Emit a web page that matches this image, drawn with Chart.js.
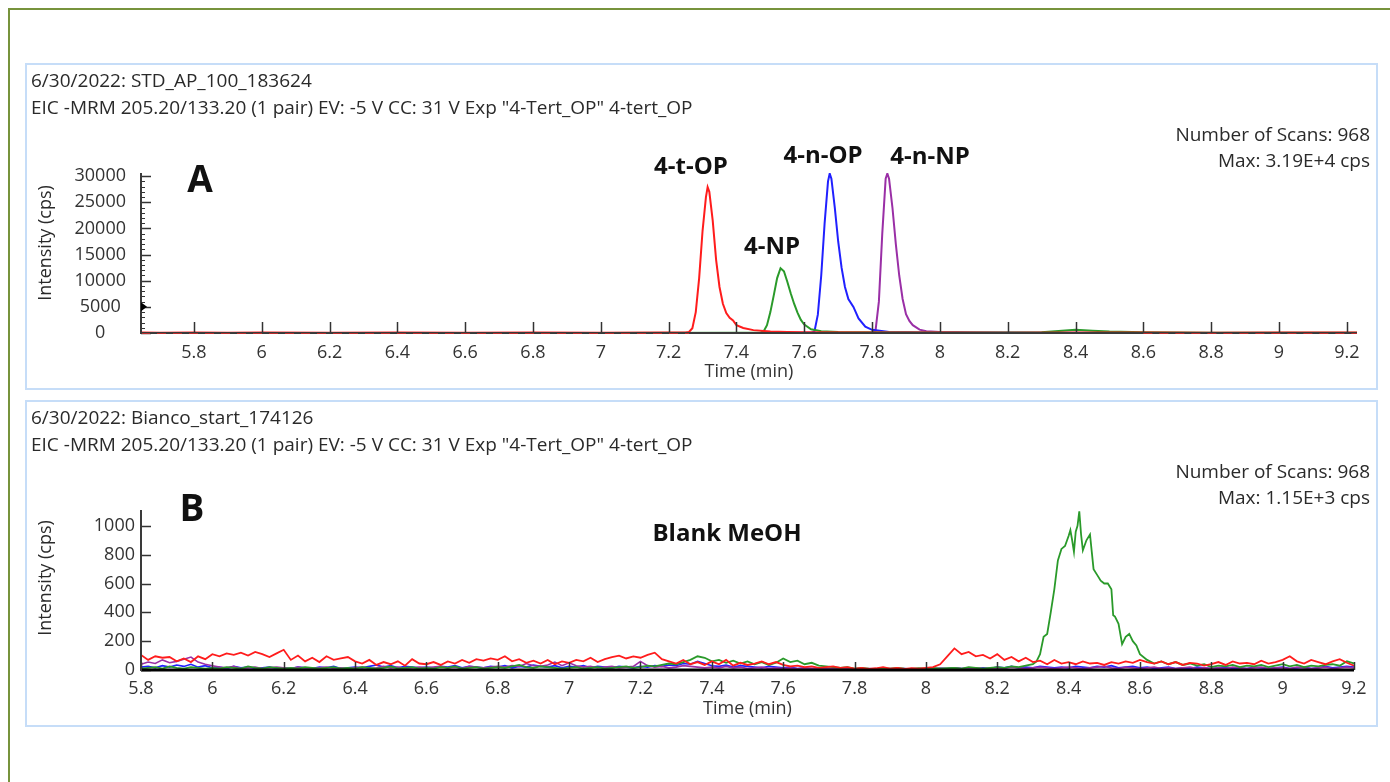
<!DOCTYPE html>
<html>
<head>
<meta charset="utf-8">
<script src="https://cdn.jsdelivr.net/npm/chart.js@4.4.0/dist/chart.umd.min.js"></script>
<style>
    body { margin: 0; background: #fff; }
    #page { position: relative; width: 1390px; height: 782px; overflow: hidden; font-family: "Open Sans", sans-serif; color: #2a2a2a; }
    .edge-top { position: absolute; left: 8px; top: 8px; width: 1382px; height: 2px; background: #77933c; }
    .edge-left { position: absolute; left: 8px; top: 8px; width: 2px; height: 774px; background: #77933c; }
    .panel { position: absolute; left: 25px; width: 1349px; height: 323px; border: 2px solid #c6ddf8; }
    .panel canvas { position: absolute; left: 0; top: 0; }
    .hdr { position: absolute; left: 4px; font-size: 19px; line-height: 26px; white-space: nowrap; }
    .info { position: absolute; right: 6px; font-size: 19px; line-height: 26px; white-space: nowrap; text-align: right; }
    .lbl { position: absolute; font-weight: bold; color: #111; line-height: 1; white-space: nowrap; transform: translate(-50%, -50%); }
    .ytitle { position: absolute; font-size: 18px; line-height: 1; white-space: nowrap; transform: translate(-50%, -50%) rotate(-90deg); }
</style>
</head>
<body>
<div id="page">
    <div class="edge-top"></div>
    <div class="edge-left"></div>

    <div class="panel" style="top:63px">
        <canvas id="chart-a" width="1349" height="323"></canvas>
        <div class="hdr" style="top:2px">6/30/2022: STD_AP_100_183624</div>
        <div class="hdr" style="top:29px">EIC -MRM 205.20/133.20 (1 pair) EV: -5 V CC: 31 V Exp "4-Tert_OP" 4-tert_OP</div>
        <div class="info" style="top:56px">Number of Scans: 968</div>
        <div class="info" style="top:82px">Max: 3.19E+4 cps</div>
    </div>

    <div class="panel" style="top:400px">
        <canvas id="chart-b" width="1349" height="323"></canvas>
        <div class="hdr" style="top:2px">6/30/2022: Bianco_start_174126</div>
        <div class="hdr" style="top:29px">EIC -MRM 205.20/133.20 (1 pair) EV: -5 V CC: 31 V Exp "4-Tert_OP" 4-tert_OP</div>
        <div class="info" style="top:56px">Number of Scans: 968</div>
        <div class="info" style="top:82px">Max: 1.15E+3 cps</div>
    </div>

    <div class="ytitle" style="left:44px;top:243px">Intensity (cps)</div>
    <div class="ytitle" style="left:44px;top:578px">Intensity (cps)</div>

    <div class="lbl" style="left:200px;top:177px;font-size:37px">A</div>
    <div class="lbl" style="left:691px;top:165px;font-size:24px">4-t-OP</div>
    <div class="lbl" style="left:772px;top:245px;font-size:24px">4-NP</div>
    <div class="lbl" style="left:823px;top:154px;font-size:24px">4-n-OP</div>
    <div class="lbl" style="left:930px;top:155px;font-size:24px">4-n-NP</div>
    <div class="lbl" style="left:192px;top:506px;font-size:37px">B</div>
    <div class="lbl" style="left:727px;top:532px;font-size:24px">Blank MeOH</div>
</div>

<script>
// ---- panel A : standard 100, four peaks ----
const xTicksA = [5.8, 6, 6.2, 6.4, 6.6, 6.8, 7, 7.2, 7.4, 7.6, 7.8, 8, 8.2, 8.4, 8.6, 8.8, 9, 9.2];
const yTicksA = [0, 5000, 10000, 15000, 20000, 25000, 30000];

const redA_t = [5.64, 5.7, 5.8, 5.9, 6.0, 6.2, 6.4, 6.6, 6.8, 7.0, 7.2, 7.25, 7.26, 7.27, 7.28, 7.29, 7.30, 7.31, 7.315, 7.32, 7.33, 7.34, 7.35, 7.36, 7.37, 7.38, 7.39, 7.40, 7.42, 7.45, 7.50, 7.55, 7.6, 7.8, 8.0, 8.2, 8.4, 8.6, 8.8, 9.0, 9.23];
const redA_y = [80, 60, 90, 70, 80, 60, 90, 70, 80, 60, 90, 100, 200, 900, 4000, 10500, 19500, 26000, 27900, 27000, 21500, 14000, 8800, 5600, 3800, 2900, 2400, 1500, 950, 550, 300, 180, 120, 90, 80, 70, 90, 80, 70, 90, 80];

const greenA_t = [5.64, 6.0, 6.5, 7.0, 7.4, 7.47, 7.48, 7.49, 7.50, 7.51, 7.52, 7.53, 7.54, 7.55, 7.56, 7.57, 7.58, 7.59, 7.60, 7.62, 7.65, 7.7, 7.8, 8.0, 8.3, 8.35, 8.4, 8.45, 8.5, 8.6, 8.8, 9.0, 9.23];
const greenA_y = [20, 20, 20, 20, 30, 60, 300, 1500, 4000, 7200, 10500, 12400, 11800, 9800, 7600, 5600, 3900, 2500, 1600, 700, 350, 200, 120, 80, 150, 400, 600, 450, 300, 150, 60, 40, 30];

const blueA_t = [5.64, 6.5, 7.5, 7.62, 7.63, 7.64, 7.65, 7.66, 7.67, 7.675, 7.68, 7.69, 7.70, 7.71, 7.72, 7.73, 7.745, 7.76, 7.78, 7.8, 7.85, 8.0, 8.5, 9.23];
const blueA_y = [10, 10, 10, 30, 300, 3500, 11000, 21000, 29000, 30500, 29500, 24000, 17500, 12500, 8800, 6500, 5000, 2800, 1200, 600, 200, 60, 20, 10];

const purpleA_t = [5.64, 6.5, 7.5, 7.8, 7.81, 7.82, 7.83, 7.84, 7.845, 7.85, 7.86, 7.87, 7.88, 7.89, 7.90, 7.91, 7.92, 7.94, 7.96, 8.0, 8.1, 8.5, 9.23];
const purpleA_y = [10, 10, 10, 30, 400, 6000, 19000, 29500, 30500, 29500, 24000, 17000, 11000, 6500, 3600, 2300, 1500, 650, 350, 200, 80, 20, 10];

// ---- panel B : blank MeOH ----
const xTicksB = [5.8, 6, 6.2, 6.4, 6.6, 6.8, 7, 7.2, 7.4, 7.6, 7.8, 8, 8.2, 8.4, 8.6, 8.8, 9, 9.2];
const yTicksB = [0, 200, 400, 600, 800, 1000];

const timeB = [
    5.80, 5.82, 5.84, 5.86, 5.88, 5.90, 5.92, 5.94, 5.96, 5.98,
    6.00, 6.02, 6.04, 6.06, 6.08, 6.10, 6.12, 6.14, 6.16, 6.18,
    6.20, 6.22, 6.24, 6.26, 6.28, 6.30, 6.32, 6.34, 6.36, 6.38,
    6.40, 6.42, 6.44, 6.46, 6.48, 6.50, 6.52, 6.54, 6.56, 6.58,
    6.60, 6.62, 6.64, 6.66, 6.68, 6.70, 6.72, 6.74, 6.76, 6.78,
    6.80, 6.82, 6.84, 6.86, 6.88, 6.90, 6.92, 6.94, 6.96, 6.98,
    7.00, 7.02, 7.04, 7.06, 7.08, 7.10, 7.12, 7.14, 7.16, 7.18,
    7.20, 7.22, 7.24, 7.26, 7.28, 7.30, 7.32, 7.34, 7.36, 7.38,
    7.40, 7.42, 7.44, 7.46, 7.48, 7.50, 7.52, 7.54, 7.56, 7.58,
    7.60, 7.62, 7.64, 7.66, 7.68, 7.70, 7.72, 7.74, 7.76, 7.78,
    7.80, 7.82, 7.84, 7.86, 7.88, 7.90, 7.92, 7.94, 7.96, 7.98,
    8.00, 8.02, 8.04, 8.06, 8.08, 8.10, 8.12, 8.14, 8.16, 8.18,
    8.20, 8.22, 8.24, 8.26, 8.28, 8.30, 8.32, 8.34, 8.36, 8.38,
    8.40, 8.42, 8.44, 8.46, 8.48, 8.50, 8.52, 8.54, 8.56, 8.58,
    8.60, 8.62, 8.64, 8.66, 8.68, 8.70, 8.72, 8.74, 8.76, 8.78,
    8.80, 8.82, 8.84, 8.86, 8.88, 8.90, 8.92, 8.94, 8.96, 8.98,
    9.00, 9.02, 9.04, 9.06, 9.08, 9.10, 9.12, 9.14, 9.16, 9.18,
    9.20
];

const redB = [
    105, 70, 95, 85, 90, 60, 80, 55, 95, 75,
    110, 95, 115, 105, 120, 100, 125, 110, 90, 115,
    140, 70, 100, 60, 85, 55, 95, 70, 80, 90,
    60, 45, 70, 35, 55, 40, 60, 30, 75, 45,
    40, 55, 35, 60, 45, 70, 50, 75, 65, 80,
    70, 95, 60, 75, 50, 65, 45, 70, 40, 60,
    50, 70, 60, 85, 55, 75, 90, 100, 80, 95,
    85, 105, 120, 75, 60, 45, 70, 40, 55, 35,
    60, 40, 70, 30, 50, 35, 45, 60, 40, 55,
    35, 25, 30, 20, 25, 15, 20, 25, 15, 20,
    10, 15, 8, 12, 20, 10, 15, 8, 12, 10,
    15, 20, 40, 95, 150, 110, 125, 95, 105, 80,
    110, 70, 90, 60, 85, 55, 65, 40, 70, 45,
    55, 40, 60, 45, 50, 35, 55, 45, 60, 50,
    70, 55, 45, 60, 40, 55, 35, 50, 45, 30,
    40, 55, 35, 60, 45, 50, 40, 65, 45, 55,
    70, 95, 60, 45, 70, 55, 40, 60, 75, 50,
    30
];

const blueB = [
    20, 25, 15, 30, 20, 35, 25, 40, 20, 30,
    15, 20, 10, 25, 15, 20, 10, 15, 20, 10,
    15, 10, 20, 15, 10, 20, 15, 25, 10, 15,
    20, 15, 25, 35, 20, 30, 15, 25, 20, 15,
    20, 15, 25, 20, 30, 15, 25, 20, 15, 25,
    20, 30, 15, 25, 20, 35, 25, 20, 30, 15,
    25, 20, 30, 15, 25, 20, 15, 25, 20, 15,
    25, 20, 30, 25, 35, 30, 45, 40, 60, 45,
    30, 25, 35, 20, 30, 25, 20, 15, 25, 20,
    15, 20, 10, 15, 10, 15, 10, 8, 12, 10,
    8, 10, 5, 8, 10, 5, 8, 10, 5, 8,
    10, 8, 12, 10, 15, 10, 12, 8, 15, 10,
    20, 15, 25, 15, 20, 15, 25, 20, 15, 20,
    15, 25, 20, 15, 25, 20, 30, 15, 20, 25,
    15, 20, 10, 15, 20, 10, 15, 10, 20, 15,
    10, 15, 20, 10, 15, 10, 20, 15, 10, 15,
    20, 10, 15, 20, 10, 15, 25, 15, 20, 25,
    20
];

const purpleB = [
    40, 55, 45, 70, 50, 60, 75, 90, 55, 40,
    30, 20, 15, 25, 10, 15, 20, 10, 15, 20,
    15, 10, 20, 15, 10, 15, 20, 10, 15, 10,
    15, 20, 10, 15, 25, 15, 20, 10, 15, 20,
    15, 20, 25, 15, 20, 10, 25, 20, 15, 20,
    25, 20, 30, 25, 45, 30, 25, 35, 55, 30,
    50, 30, 20, 25, 15, 20, 25, 15, 20, 25,
    60, 30, 20, 25, 15, 20, 30, 25, 20, 15,
    20, 15, 25, 15, 20, 10, 15, 20, 10, 15,
    10, 15, 8, 12, 10, 8, 12, 10, 8, 10,
    8, 5, 10, 8, 5, 10, 8, 5, 10, 8,
    10, 8, 12, 10, 15, 10, 12, 15, 10, 12,
    15, 10, 20, 15, 10, 15, 20, 15, 10, 15,
    20, 15, 10, 15, 20, 25, 15, 10, 20, 15,
    10, 15, 20, 10, 15, 10, 15, 20, 10, 15,
    10, 15, 10, 20, 15, 10, 15, 20, 10, 15,
    15, 10, 20, 15, 10, 15, 20, 10, 15, 20,
    15
];

const greenB_t = [
    5.80, 5.82, 5.84, 5.86, 5.88, 5.90, 5.92, 5.94, 5.96, 5.98,
    6.00, 6.02, 6.04, 6.06, 6.08, 6.10, 6.12, 6.14, 6.16, 6.18,
    6.20, 6.22, 6.24, 6.26, 6.28, 6.30, 6.32, 6.34, 6.36, 6.38,
    6.40, 6.42, 6.44, 6.46, 6.48, 6.50, 6.52, 6.54, 6.56, 6.58,
    6.60, 6.62, 6.64, 6.66, 6.68, 6.70, 6.72, 6.74, 6.76, 6.78,
    6.80, 6.82, 6.84, 6.86, 6.88, 6.90, 6.92, 6.94, 6.96, 6.98,
    7.00, 7.02, 7.04, 7.06, 7.08, 7.10, 7.12, 7.14, 7.16, 7.18,
    7.20, 7.22, 7.24, 7.26, 7.28, 7.30, 7.32, 7.34, 7.36, 7.38,
    7.40, 7.42, 7.44, 7.46, 7.48, 7.50, 7.52, 7.54, 7.56, 7.58,
    7.60, 7.62, 7.64, 7.66, 7.68, 7.70, 7.72, 7.74, 7.76, 7.78,
    7.80, 7.82, 7.84, 7.86, 7.88, 7.90, 7.92, 7.94, 7.96, 7.98,
    8.00, 8.02, 8.04, 8.06, 8.08, 8.10, 8.12, 8.14, 8.16, 8.18,
    8.20, 8.22, 8.24, 8.26, 8.28, 8.30,
    8.31, 8.32, 8.33, 8.34, 8.35, 8.36, 8.37, 8.38, 8.39, 8.40,
    8.405, 8.41, 8.415, 8.42, 8.425, 8.43, 8.435, 8.44, 8.45, 8.46,
    8.465, 8.47, 8.48, 8.49, 8.50, 8.51, 8.52, 8.525, 8.53, 8.54,
    8.55, 8.56, 8.57, 8.58, 8.59, 8.60,
    8.62, 8.64, 8.66, 8.68, 8.70, 8.72, 8.74, 8.76, 8.78,
    8.80, 8.82, 8.84, 8.86, 8.88, 8.90, 8.92, 8.94, 8.96, 8.98,
    9.00, 9.02, 9.04, 9.06, 9.08, 9.10, 9.12, 9.14, 9.16, 9.18,
    9.20
];
const greenB_y = [
    10, 15, 20, 10, 25, 15, 10, 20, 15, 10,
    15, 10, 20, 15, 10, 25, 15, 10, 20, 15,
    10, 15, 10, 20, 15, 10, 15, 20, 10, 15,
    10, 20, 15, 10, 15, 25, 10, 15, 20, 10,
    15, 10, 20, 15, 25, 10, 15, 20, 10, 15,
    20, 15, 25, 35, 20, 15, 25, 20, 15, 10,
    15, 20, 10, 15, 20, 10, 15, 20, 25, 15,
    20, 30, 25, 35, 45, 40, 55, 70, 95, 85,
    60, 70, 50, 65, 45, 60, 40, 55, 35, 50,
    80, 55, 65, 40, 50, 30, 25, 20, 15, 20,
    10, 15, 10, 8, 12, 10, 15, 10, 8, 12,
    10, 15, 10, 12, 15, 10, 20, 15, 10, 15,
    20, 15, 25, 20, 30, 40,
    60, 110, 230, 250, 400, 560, 760, 840, 860, 930,
    970, 900, 820, 960, 1000, 1100, 940, 830, 900, 940,
    820, 700, 660, 620, 600, 600, 560, 380, 370, 320,
    180, 230, 250, 200, 170, 110,
    70, 45, 60, 40, 55, 35, 45, 30, 40,
    20, 30, 25, 35, 20, 30, 25, 35, 20, 30,
    40, 25, 35, 20, 30, 25, 35, 40, 30, 60,
    45
];

const RED = '#ff1c1c';
const GREEN = '#2a9a2a';
const BLUE = '#2020ff';
const PURPLE = '#9a2fa6';
const FONT = '"Open Sans", sans-serif';

function pairs(t, y) {
    return t.map(function(v, i) { return {x: v, y: y[i]}; });
}

function line(ctx, x1, y1, x2, y2) {
    ctx.beginPath();
    ctx.moveTo(x1, y1);
    ctx.lineTo(x2, y2);
    ctx.stroke();
}

// tick marks point into the plot, axis lines go on top of the traces
const axisMarks = {
    id: 'axisMarks',
    afterDatasetsDraw(chart, args, opts) {
        const ctx = chart.ctx;
        const a = chart.chartArea;
        const xs = chart.scales.x;
        const ys = chart.scales.y;
        ctx.save();
        ctx.strokeStyle = '#333';
        if (opts.minorStep) {
            ctx.lineWidth = 1;
            for (let v = 0; v <= ys.max; v += opts.minorStep) {
                let py = Math.round(ys.getPixelForValue(v)) + 0.5;
                line(ctx, a.left, py, a.left + 4, py);
            }
        }
        ctx.lineWidth = 1.5;
        ys.ticks.forEach(function(t) {
            let py = Math.round(ys.getPixelForValue(t.value)) + 0.5;
            line(ctx, a.left, py, a.left + opts.yTick, py);
        });
        xs.ticks.forEach(function(t) {
            let px = Math.round(xs.getPixelForValue(t.value)) + 0.5;
            line(ctx, px, a.bottom, px, a.bottom - opts.xTick);
        });
        ctx.strokeStyle = opts.xAxisColor;
        ctx.lineWidth = opts.xAxisWidth;
        line(ctx, a.left, a.bottom, a.right, a.bottom);
        if (opts.baseDash) {
            // the red trace sits on the axis and shows through as dashes
            ctx.strokeStyle = opts.baseDash;
            ctx.lineWidth = 1;
            ctx.setLineDash([9, 7]);
            line(ctx, a.left, a.bottom + 0.5, xs.getPixelForValue(7.26), a.bottom + 0.5);
            line(ctx, xs.getPixelForValue(8.6), a.bottom + 0.5, a.right, a.bottom + 0.5);
            ctx.setLineDash([]);
        }
        ctx.strokeStyle = '#3a3a3a';
        ctx.lineWidth = 2;
        line(ctx, a.left, a.top, a.left, a.bottom + 1);
        if (opts.marker != null) {
            let my = ys.getPixelForValue(opts.marker);
            ctx.fillStyle = '#000';
            ctx.beginPath();
            ctx.moveTo(a.left, my - 4.5);
            ctx.lineTo(a.left + 6, my);
            ctx.lineTo(a.left, my + 4.5);
            ctx.closePath();
            ctx.fill();
        }
        ctx.restore();
    }
};

function makeChart(id, datasets, cfg) {
    const canvas = document.getElementById(id);
    return new Chart(canvas.getContext('2d'), {
        type: 'scatter',
        data: { datasets: datasets },
        plugins: [axisMarks],
        options: {
            responsive: false,
            animation: false,
            devicePixelRatio: 1,
            layout: { padding: { left: 0, right: cfg.padRight, top: 108, bottom: 5 } },
            elements: { point: { radius: 0 } },
            plugins: {
                legend: { display: false },
                tooltip: { enabled: false },
                axisMarks: cfg.marks
            },
            scales: {
                x: {
                    type: 'linear',
                    min: cfg.xMin,
                    max: cfg.xMax,
                    grid: { display: false, drawTicks: false },
                    border: { display: false },
                    afterBuildTicks: function(s) { s.ticks = cfg.xTicks.map(function(v) { return {value: v}; }); },
                    afterFit: function(s) { s.height = 50; },
                    ticks: {
                        autoSkip: false, maxRotation: 0, padding: cfg.xPad,
                        color: '#333', font: { family: FONT, size: 18 },
                        callback: function(v) { return String(v); }
                    },
                    title: { display: true, text: 'Time (min)', color: '#333', padding: 0, font: { family: FONT, size: 18 } }
                },
                y: {
                    type: 'linear',
                    min: 0,
                    max: cfg.yMax,
                    grid: { display: false, drawTicks: false },
                    border: { display: false },
                    afterBuildTicks: function(s) { s.ticks = cfg.yTicks.map(function(v) { return {value: v}; }); },
                    afterFit: function(s) { s.width = 114; },
                    ticks: {
                        padding: cfg.yPad, crossAlign: cfg.crossAlign,
                        color: '#333', font: { family: FONT, size: 18 },
                        callback: function(v) { return String(v); }
                    }
                }
            }
        }
    });
}

function trace(t, y, color, width) {
    return { data: pairs(t, y), showLine: true, borderColor: color, borderWidth: width, tension: 0, pointRadius: 0 };
}

function build() {
    makeChart('chart-a', [
        trace(redA_t, redA_y, RED, 2),
        trace(greenA_t, greenA_y, GREEN, 2),
        trace(blueA_t, blueA_y, BLUE, 2),
        trace(purpleA_t, purpleA_y, PURPLE, 2)
    ], {
        xMin: 5.644, xMax: 9.23, yMax: 30600, padRight: 19,
        xTicks: xTicksA, yTicks: yTicksA, xPad: 9, yPad: 15, crossAlign: 'center',
        marks: { xTick: 11, yTick: 10, minorStep: 1000, xAxisColor: '#3a3a3a', xAxisWidth: 2, marker: 5000, baseDash: 'rgba(220,40,40,0.8)' }
    });

    makeChart('chart-b', [
        trace(timeB, redB, RED, 1.8),
        trace(greenB_t, greenB_y, GREEN, 1.8),
        trace(timeB, purpleB, PURPLE, 1.6),
        trace(timeB, blueB, BLUE, 1.6)
    ], {
        xMin: 5.8, xMax: 9.2, yMax: 1110, padRight: 22,
        xTicks: xTicksB, yTicks: yTicksB, xPad: 8, yPad: 6, crossAlign: 'near',
        marks: { xTick: 8, yTick: 10, minorStep: 0, xAxisColor: '#000', xAxisWidth: 3, marker: null, baseDash: null }
    });
}

build();
</script>
</body>
</html>
